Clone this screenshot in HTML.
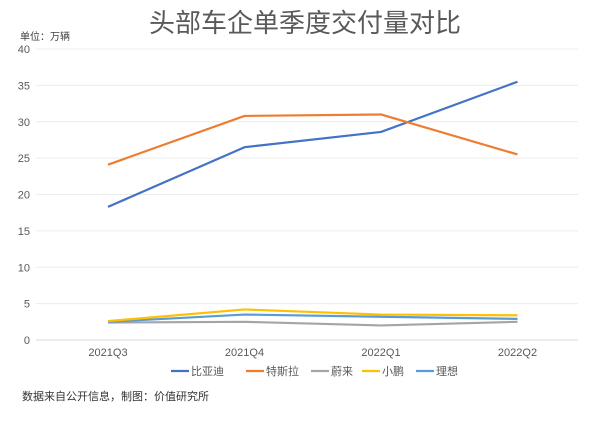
<!DOCTYPE html>
<html><head><meta charset="utf-8"><style>
body{margin:0;background:#fff;}
svg text{font-family:"Liberation Sans","Noto Sans CJK SC",sans-serif;}
</style></head><body>
<svg id="chart" width="600" height="418">
<text x="305" y="32" text-anchor="middle" font-size="26" fill="#595959">头部车企单季度交付量对比</text>
<text x="20" y="40" font-size="10" fill="#404040">单位：万辆</text>
<g id="grid"></g><g id="lines"></g><g id="legend"></g>
<text x="22" y="400" font-size="11" fill="#333">数据来自公开信息，制图：价值研究所</text>
</svg>
<script>
const categories=["2021Q3","2021Q4","2022Q1","2022Q2"];
const yTicks=[0,5,10,15,20,25,30,35,40];
const seriesNames=["比亚迪","特斯拉","蔚来","小鹏","理想"];
const seriesColors=["#4472C4","#ED7D31","#A5A5A5","#FFC000","#5B9BD5"];
const byd=[18.3,26.5,28.6,35.5];
const tesla=[24.1,30.8,31.0,25.5];
const nio=[2.4,2.5,2.0,2.5];
const xpeng=[2.6,4.2,3.5,3.4];
const lixiang=[2.5,3.5,3.2,2.9];
const seriesValues=[byd,tesla,nio,xpeng,lixiang];
const NS="http://www.w3.org/2000/svg";
const y=v=>340-v*291/40;
const x=i=>108+i*136.5;
function mk(t,a,p){const e=document.createElementNS(NS,t);for(const k in a)e.setAttribute(k,a[k]);p.appendChild(e);return e;}
const grid=document.getElementById('grid');
yTicks.forEach(t=>{
 const l=mk('line',{x1:36,x2:578,y1:y(t),y2:y(t),stroke:t===0?'#d9d9d9':'#ececec','stroke-width':1},grid);
 
 
 const tx=mk('text',{x:30,y:y(t)+4,'text-anchor':'end','font-size':11,fill:'#595959'},grid);tx.textContent=t;
 
 
});
categories.forEach((c,i)=>{
 const tx=mk('text',{x:x(i),y:356,'text-anchor':'middle','font-size':11,fill:'#595959'},grid);tx.textContent=c;
 
 
});
const lines=document.getElementById('lines');
[2,4,3,0,1].forEach(s=>{
 const pts=seriesValues[s].map((v,i)=>x(i)+','+y(v)).join(' ');
 const p=mk('polyline',{points:pts,fill:'none',stroke:seriesColors[s],'stroke-width':2.2,'stroke-linejoin':'round'},lines);
 
 
});
const lg=document.getElementById('legend');
const lx=[171,246,311,362,416];
seriesNames.forEach((n,i)=>{
 const g=mk('g',{},lg);
 
 
 mk('line',{x1:lx[i],x2:lx[i]+18,y1:371,y2:371,stroke:seriesColors[i],'stroke-width':2.2},g);
 const t=mk('text',{x:lx[i]+20,y:375,'font-size':11,fill:'#595959'},g);t.textContent=n;
});
</script>
</body></html>
